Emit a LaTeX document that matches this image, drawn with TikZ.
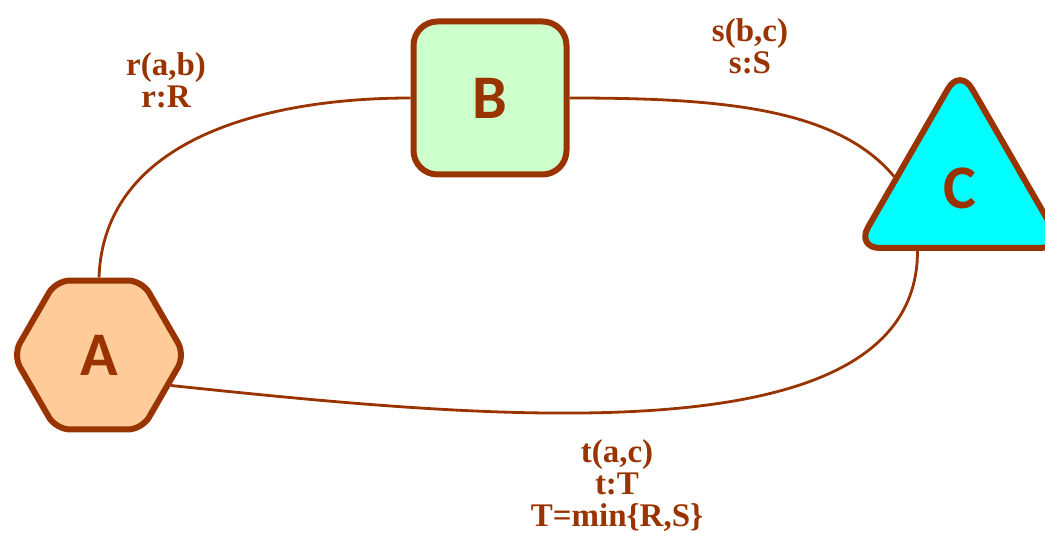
\documentclass[tikz,border=0pt]{standalone}
\usepackage{fontspec}
\usepackage{tikz}
\usetikzlibrary{positioning,shapes.geometric}
\setmainfont{Liberation Serif}
\newfontfamily\nodefont{Carlito}
\newfontfamily\lblfont{Liberation Serif}
\definecolor{rust}{HTML}{993300}
\definecolor{peach}{HTML}{FFCC99}
\definecolor{mint}{HTML}{CCFFCC}
\definecolor{aqua}{HTML}{00FFFF}

\begin{document}
\begin{tikzpicture}[x=1pt,y=1pt,n/.style={draw=rust,line width=6pt,text=rust,inner sep=0pt,font=\nodefont\bfseries\fontsize{62}{62}\selectfont},
hexa/.style={n,regular polygon,regular polygon sides=6,minimum size=172pt,fill=peach,rounded corners=14pt},
sq/.style={n,rectangle,minimum size=153pt,fill=mint,rounded corners=24pt},
tri/.style={n,regular polygon,regular polygon sides=3,minimum size=240pt,fill=aqua,rounded corners=24pt},
lbl/.style={text=rust,align=center,font=\lblfont\bfseries\fontsize{33}{32}\selectfont},
e/.style={draw=rust,line width=2.8pt}]
\useasboundingbox (0,0) rectangle (1045,533);
\node[hexa] (A) at (99,178) {A}; \node[sq] (B) at (490,435) {B}; \node[tri] (C) at (960,345) {C};
\draw[e] (A.north) to[out=88,in=180] (B.west);
\draw[e] (B.east) to[out=0,in=130,out distance=150pt,in distance=90pt] (C.170);
\draw[e] (C.236) to[out=-90,in=-6,out distance=210pt,in distance=320pt] (A.-23);
\node[lbl] (rlbl) at (166,453) {r(a,b)\\r:R};
\node[lbl] (slbl) at (750,487) {s(b,c)\\s:S};
\node[lbl] (tlbl) at (617,47) {t(a,c)\\t:T\\T=min\{R,S\}};
\end{tikzpicture}
\end{document}
